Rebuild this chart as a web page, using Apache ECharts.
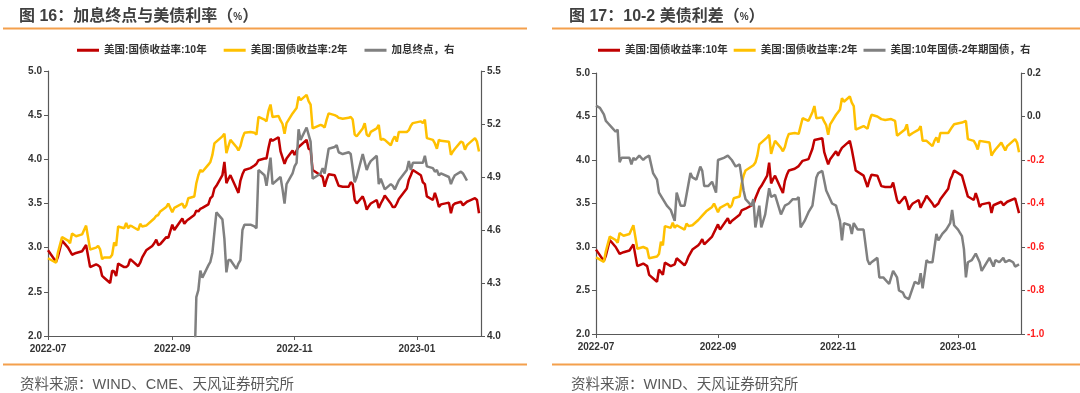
<!DOCTYPE html>
<html><head><meta charset="utf-8">
<script src="https://cdn.jsdelivr.net/npm/echarts@6/dist/echarts.min.js"></script>
<style>html,body{margin:0;padding:0;background:#fff}#c{width:1080px;height:393px}</style>
</head><body><div id="c"></div>
<script>
// 美国10年/2年国债收益率（共用日期）
const dates = ['2022-07-01','2022-07-05','2022-07-06','2022-07-08','2022-07-11','2022-07-12','2022-07-13','2022-07-15','2022-07-18','2022-07-20','2022-07-22','2022-07-25','2022-07-26','2022-07-27','2022-07-28','2022-07-29',
'2022-08-01','2022-08-02','2022-08-03','2022-08-04','2022-08-05','2022-08-08','2022-08-09','2022-08-10','2022-08-11','2022-08-12','2022-08-15','2022-08-16','2022-08-17','2022-08-19','2022-08-22','2022-08-23','2022-08-24','2022-08-25','2022-08-26','2022-08-29','2022-08-30',
'2022-09-01','2022-09-02','2022-09-06','2022-09-07','2022-09-08','2022-09-09','2022-09-12','2022-09-13','2022-09-14','2022-09-15','2022-09-16','2022-09-19','2022-09-20','2022-09-21','2022-09-22','2022-09-23','2022-09-26','2022-09-27','2022-09-28','2022-09-29','2022-09-30',
'2022-10-03','2022-10-04','2022-10-05','2022-10-06','2022-10-07','2022-10-10','2022-10-12','2022-10-13','2022-10-14','2022-10-17','2022-10-18','2022-10-19','2022-10-20','2022-10-21','2022-10-24','2022-10-25','2022-10-26','2022-10-27','2022-10-28','2022-10-31',
'2022-11-01','2022-11-02','2022-11-03','2022-11-04','2022-11-07','2022-11-08','2022-11-09','2022-11-10','2022-11-14','2022-11-15','2022-11-16','2022-11-17','2022-11-18','2022-11-21','2022-11-22','2022-11-23','2022-11-25','2022-11-28','2022-11-29','2022-11-30',
'2022-12-01','2022-12-02','2022-12-05','2022-12-06','2022-12-07','2022-12-08','2022-12-09','2022-12-12','2022-12-13','2022-12-14','2022-12-15','2022-12-16','2022-12-19','2022-12-20','2022-12-21','2022-12-22','2022-12-23','2022-12-27','2022-12-28','2022-12-29','2022-12-30',
'2023-01-03','2023-01-04','2023-01-05','2023-01-06','2023-01-09','2023-01-10','2023-01-11','2023-01-12','2023-01-13','2023-01-17','2023-01-18','2023-01-19','2023-01-20','2023-01-23','2023-01-24','2023-01-25','2023-01-26','2023-01-27','2023-01-30','2023-01-31','2023-02-01'];
const ust10y = [2.97,2.84,2.90,3.08,3.00,2.96,2.92,2.94,2.96,3.03,2.78,2.81,2.80,2.78,2.68,2.66,
2.60,2.74,2.73,2.68,2.82,2.78,2.78,2.80,2.87,2.85,2.79,2.83,2.89,2.97,3.02,3.05,3.09,3.03,3.04,3.12,3.11,
3.26,3.20,3.33,3.27,3.30,3.32,3.37,3.42,3.41,3.44,3.45,3.49,3.56,3.58,3.67,3.70,3.82,3.97,3.73,3.78,3.82,
3.67,3.62,3.76,3.83,3.88,3.90,3.93,3.95,3.99,4.01,4.01,4.13,4.23,4.21,4.25,4.09,4.02,3.95,4.01,4.10,
4.05,4.10,4.14,4.16,4.22,4.12,4.11,3.88,3.82,3.80,3.69,3.77,3.83,3.82,3.76,3.70,3.69,3.69,3.74,3.72,
3.54,3.50,3.58,3.52,3.43,3.47,3.50,3.54,3.45,3.50,3.54,3.59,3.50,3.46,3.46,3.50,3.55,3.67,3.77,3.82,3.88,
3.82,3.74,3.72,3.58,3.54,3.62,3.55,3.46,3.49,3.51,3.39,3.48,3.50,3.52,3.48,3.50,3.52,3.53,3.56,3.54,3.39];
const ust2y = [2.88,2.83,2.95,3.12,3.08,3.05,3.16,3.13,3.15,3.25,2.98,3.00,3.02,2.98,2.87,2.89,
2.89,2.92,3.06,3.02,3.24,3.22,3.28,3.22,3.25,3.24,3.20,3.27,3.24,3.25,3.31,3.33,3.36,3.37,3.41,3.46,3.50,
3.40,3.45,3.50,3.45,3.48,3.56,3.58,3.73,3.82,3.88,3.86,3.94,3.97,4.05,4.18,4.20,4.26,4.29,4.07,4.15,4.22,
4.14,4.10,4.15,4.24,4.30,4.31,4.30,4.28,4.48,4.45,4.43,4.55,4.62,4.48,4.49,4.44,4.40,4.29,4.41,4.52,
4.55,4.58,4.71,4.67,4.73,4.66,4.62,4.35,4.39,4.38,4.36,4.45,4.52,4.50,4.49,4.47,4.46,4.47,4.48,4.45,
4.28,4.26,4.35,4.41,4.28,4.26,4.31,4.35,4.39,4.22,4.23,4.22,4.16,4.22,4.26,4.20,4.31,4.31,4.33,4.38,4.41,
4.43,4.41,4.45,4.24,4.22,4.18,4.12,4.22,4.21,4.20,4.05,4.09,4.12,4.20,4.19,4.11,4.16,4.18,4.24,4.20,4.09];
// 加息终点（右轴）
const termDates = ['2022-09-12','2022-09-13','2022-09-14','2022-09-15','2022-09-16','2022-09-19','2022-09-20','2022-09-21','2022-09-23','2022-09-26','2022-09-27','2022-09-28','2022-09-29','2022-09-30',
'2022-10-03','2022-10-04','2022-10-05','2022-10-06','2022-10-07','2022-10-10','2022-10-12','2022-10-13','2022-10-14','2022-10-17','2022-10-18','2022-10-20','2022-10-21','2022-10-24','2022-10-25','2022-10-26','2022-10-27','2022-10-28','2022-10-31',
'2022-11-01','2022-11-02','2022-11-03','2022-11-04','2022-11-07','2022-11-08','2022-11-09','2022-11-10','2022-11-14','2022-11-15','2022-11-16','2022-11-18','2022-11-21','2022-11-22','2022-11-23','2022-11-25','2022-11-28','2022-11-29',
'2022-12-01','2022-12-02','2022-12-05','2022-12-07','2022-12-08','2022-12-09','2022-12-12','2022-12-13','2022-12-14','2022-12-16','2022-12-19','2022-12-20','2022-12-21','2022-12-23','2022-12-27','2022-12-28','2022-12-29','2022-12-30',
'2023-01-03','2023-01-04','2023-01-05','2023-01-06','2023-01-09','2023-01-10','2023-01-11','2023-01-12','2023-01-13','2023-01-17','2023-01-18','2023-01-19','2023-01-20','2023-01-23','2023-01-24','2023-01-26'];
const termRate = [3.80,4.22,4.26,4.37,4.33,4.40,4.42,4.47,4.70,4.66,4.55,4.36,4.43,4.43,
4.38,4.41,4.43,4.60,4.63,4.63,4.62,4.61,4.94,4.91,4.85,5.01,4.86,4.89,4.90,4.83,4.75,4.86,4.92,
4.96,4.98,5.17,5.11,5.18,5.14,5.10,4.89,4.92,4.95,4.92,5.06,5.07,5.08,5.04,5.03,5.04,5.03,
4.87,4.90,5.03,4.94,4.97,4.99,5.02,4.86,4.89,4.83,4.86,4.85,4.83,4.88,4.94,4.99,4.94,4.98,
4.98,4.98,5.02,4.96,4.95,4.93,4.94,4.91,4.92,4.90,4.86,4.89,4.91,4.93,4.92,4.88];
// 10年-2年利差（右轴）
const spreadDates = ['2022-07-01','2022-07-03','2022-07-05','2022-07-06','2022-07-07','2022-07-09','2022-07-11','2022-07-12','2022-07-13','2022-07-14','2022-07-16','2022-07-18','2022-07-19','2022-07-20','2022-07-21','2022-07-23','2022-07-25','2022-07-26','2022-07-28','2022-07-30',
'2022-08-01','2022-08-02','2022-08-03','2022-08-04','2022-08-06','2022-08-08','2022-08-10','2022-08-11','2022-08-13','2022-08-15','2022-08-16','2022-08-18','2022-08-19','2022-08-21','2022-08-23','2022-08-24','2022-08-25','2022-08-27','2022-08-29','2022-08-31',
'2022-09-01','2022-09-04','2022-09-06','2022-09-08','2022-09-10','2022-09-12','2022-09-14','2022-09-15','2022-09-18','2022-09-19','2022-09-20','2022-09-22','2022-09-23','2022-09-25','2022-09-27','2022-09-28','2022-09-30',
'2022-10-03','2022-10-05','2022-10-07','2022-10-09','2022-10-11','2022-10-12','2022-10-13','2022-10-15','2022-10-17','2022-10-19','2022-10-21','2022-10-22','2022-10-24','2022-10-26','2022-10-27','2022-10-29','2022-10-31',
'2022-11-02','2022-11-03','2022-11-04','2022-11-07','2022-11-08','2022-11-09','2022-11-11','2022-11-14','2022-11-15','2022-11-16','2022-11-17','2022-11-18','2022-11-21','2022-11-22','2022-11-24','2022-11-25','2022-11-27','2022-11-29',
'2022-12-01','2022-12-02','2022-12-04','2022-12-05','2022-12-07','2022-12-10','2022-12-12','2022-12-13','2022-12-14','2022-12-16','2022-12-17','2022-12-19','2022-12-21','2022-12-22','2022-12-24','2022-12-26','2022-12-28','2022-12-29','2022-12-30',
'2023-01-01','2023-01-03','2023-01-04','2023-01-05','2023-01-06','2023-01-08','2023-01-10','2023-01-12','2023-01-13','2023-01-15','2023-01-17','2023-01-19','2023-01-20','2023-01-22','2023-01-24','2023-01-25','2023-01-27','2023-01-29','2023-01-30','2023-02-01'];
const spread10y2y = [0.05,0.04,0.01,-0.02,-0.03,-0.05,-0.07,-0.06,-0.21,-0.19,-0.19,-0.19,-0.22,-0.19,-0.20,-0.18,-0.20,-0.19,-0.18,-0.26,
-0.29,-0.35,-0.35,-0.38,-0.41,-0.43,-0.48,-0.35,-0.41,-0.41,-0.41,-0.26,-0.28,-0.29,-0.23,-0.25,-0.32,-0.32,-0.30,-0.35,
-0.20,-0.19,-0.18,-0.20,-0.23,-0.22,-0.34,-0.38,-0.41,-0.38,-0.51,-0.41,-0.51,-0.45,-0.33,-0.37,-0.36,
-0.45,-0.41,-0.40,-0.38,-0.38,-0.37,-0.51,-0.48,-0.44,-0.41,-0.28,-0.26,-0.25,-0.34,-0.36,-0.40,-0.41,
-0.48,-0.57,-0.49,-0.50,-0.54,-0.49,-0.52,-0.52,-0.52,-0.66,-0.68,-0.67,-0.65,-0.74,-0.74,-0.75,-0.77,-0.71,
-0.74,-0.80,-0.81,-0.83,-0.84,-0.76,-0.77,-0.72,-0.79,-0.66,-0.67,-0.67,-0.54,-0.57,-0.54,-0.52,-0.49,-0.43,-0.50,
-0.52,-0.55,-0.61,-0.74,-0.67,-0.66,-0.63,-0.67,-0.71,-0.68,-0.65,-0.69,-0.66,-0.67,-0.65,-0.67,-0.66,-0.67,-0.69,-0.68];
const xTickDates = ['2022-07-01','2022-09-01','2022-11-01','2023-01-01'];

const NAME10 = '美国:国债收益率:10年', NAME2 = '美国:国债收益率:2年';
const RED = '#C00000', YEL = '#FFC000', GRAY = '#808080';
function ts(s){ const p = s.split('-').map(Number); return new Date(p[0], p[1]-1, p[2]).getTime(); }
const zip = (xs, ys) => xs.map((x, i) => [ts(x), ys[i]]);
const tickVals = xTickDates.map(ts);
const pad = n => (n < 10 ? '0' : '') + n;
const fmtDate = v => { const d = new Date(v); return d.getFullYear() + '-' + pad(d.getMonth()+1); };
const FONT = "'Liberation Sans','Noto Sans CJK SC',sans-serif";
const AX = '#595959';

function xAxis(gi){
  return {type:'value', gridIndex:gi, min: ts('2022-07-01'), max: ts('2023-02-02'), scale:true,
    axisLine:{onZero:false, lineStyle:{color:AX,width:1.2}},
    axisTick:{show:true, length:4, customValues: tickVals, lineStyle:{color:AX}},
    axisLabel:{customValues: tickVals, formatter: fmtDate, fontSize:10, fontWeight:'bold', color:'#333', margin:8},
    splitLine:{show:false}};
}
function yAxis(gi, pos, min, max, interval, colorFn){
  return {type:'value', gridIndex:gi, position:pos, min, max, interval,
    axisLine:{show:true, onZero:false, lineStyle:{color:AX,width:1.2}},
    axisTick:{show:true, length:4, lineStyle:{color:AX}},
    axisLabel:{formatter: v => v.toFixed(1), fontSize:10, fontWeight:'bold', color: colorFn || '#333', margin:6},
    splitLine:{show:false}};
}
function line(name, xi, yi, data, color){
  return {name, type:'line', xAxisIndex:xi, yAxisIndex:yi, data, symbol:'none', showSymbol:false,
    lineStyle:{color, width:2.5}, itemStyle:{color}, clip:true, animation:false};
}
const chart = echarts.init(document.getElementById('c'), null, {renderer:'canvas'});
const titleStyle = {fontSize:16, fontWeight:'bold', color:'#404040', fontFamily:FONT, rich:{p:{fontSize:10, fontWeight:'bold', color:'#404040', fontFamily:FONT}}};
const footStyle = {fontSize:14.5, fontWeight:'normal', color:'#595959', fontFamily:FONT};
const legendText = {fontSize:10.5, fontWeight:'bold', color:'#333', fontFamily:FONT};
chart.setOption({
  animation:false,
  textStyle:{fontFamily:FONT},
  title:[
    {text:'图 16：加息终点与美债利率（{p|%}）', left:14, top:4, textStyle:titleStyle},
    {text:'图 17：10-2 美债利差（{p|%}）', left:564, top:4, textStyle:titleStyle},
    {text:'资料来源：WIND、CME、天风证券研究所', left:15, top:373, textStyle:footStyle},
    {text:'资料来源：WIND、天风证券研究所', left:566, top:373, textStyle:footStyle}
  ],
  graphic:[
    {type:'line', shape:{x1:3,y1:28.5,x2:527,y2:28.5}, style:{stroke:'#F4A04C', lineWidth:2}},
    {type:'line', shape:{x1:552,y1:28.5,x2:1080,y2:28.5}, style:{stroke:'#F4A04C', lineWidth:2}},
    {type:'line', shape:{x1:3,y1:364.5,x2:527,y2:364.5}, style:{stroke:'#F4A04C', lineWidth:2}},
    {type:'line', shape:{x1:552,y1:364.5,x2:1080,y2:364.5}, style:{stroke:'#F4A04C', lineWidth:2}}
  ],
  legend:[
    {left:72, top:40, itemWidth:22, itemHeight:3, itemGap:17, icon:'rect', textStyle:legendText,
     data:[NAME10, NAME2, '加息终点，右']},
    {left:593, top:40, itemWidth:22, itemHeight:3, itemGap:6, icon:'rect', textStyle:legendText,
     data:[NAME10, NAME2, '美国:10年国债-2年期国债，右']}
  ],
  grid:[
    {left:48, top:71, width:433, height:265},
    {left:596, top:73, width:425, height:261}
  ],
  xAxis:[xAxis(0), xAxis(1)],
  yAxis:[
    yAxis(0,'left',2,5,0.5),
    yAxis(0,'right',4,5.5,0.3),
    yAxis(1,'left',2,5,0.5),
    yAxis(1,'right',-1,0.2,0.2, (v) => (Number(v) < -0.001 ? '#FF2020' : '#333'))
  ],
  series:[
    line(NAME10,0,0,zip(dates,ust10y),RED),
    line(NAME2,0,0,zip(dates,ust2y),YEL),
    line('加息终点，右',0,1,zip(termDates,termRate),GRAY),
    line(NAME10,1,2,zip(dates,ust10y),RED),
    line(NAME2,1,2,zip(dates,ust2y),YEL),
    line('美国:10年国债-2年期国债，右',1,3,zip(spreadDates,spread10y2y),GRAY)
  ]
});
</script></body></html>
